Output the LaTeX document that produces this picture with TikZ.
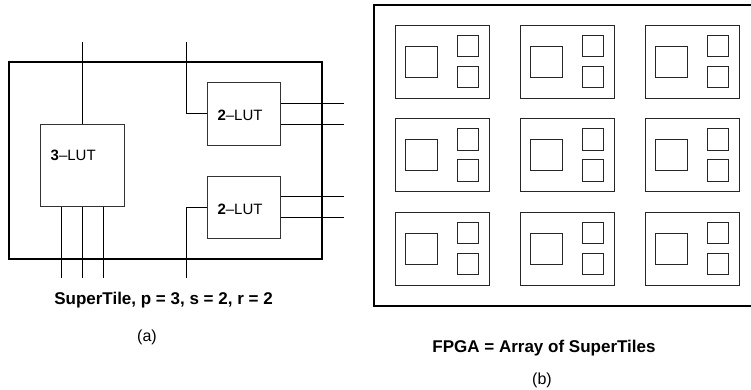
\documentclass[tikz,border=0pt]{standalone}
\usepackage{fontspec}
\setmainfont{Liberation Sans}
\usetikzlibrary{calc}

\tikzset{
  frame/.style={line width=2pt},
  lut/.style={draw=black!80, line width=0.9pt, inner sep=0pt},
  wire/.style={line width=0.9pt},
  tile/.style={draw=black!85, line width=1pt},
  lbl/.style={font=\fontsize{15}{18}\selectfont, inner sep=0pt},
  captxt/.style={font=\bfseries\fontsize{17}{20}\selectfont, inner sep=0pt},
  subtxt/.style={font=\fontsize{16}{19}\selectfont, inner sep=0pt}
}

\begin{document}
\begin{tikzpicture}[x=1pt, y=-1pt]
  \useasboundingbox (0,0) rectangle (751,389);
  % SuperTile
  \draw[frame] (9,62) rectangle (322,259);
  \node[lut, minimum width=83.6pt, minimum height=82.7pt] (lut3) at (82.5,165.3) {};
  \node[lut, minimum width=72.6pt, minimum height=62.7pt] (luta) at (244,113.7) {};
  \node[lut, minimum width=72.6pt, minimum height=62.3pt] (lutb) at (244,207.2) {};
  \node[lbl, anchor=west] (lut3txt) at (50.5,155) {\textbf{3}--LUT};
  \node[lbl, anchor=west] (lutatxt) at (217.3,115) {\textbf{2}--LUT};
  \node[lbl, anchor=west] (lutbtxt) at (217.3,209) {\textbf{2}--LUT};
  % Wires
  \coordinate (in3) at (82.5,41.7);
  \coordinate (ina) at (186,41.7);
  \coordinate (inb) at (186,278);
  \draw[wire] (in3) -- (lut3.north);
  \foreach \dx in {-21,0,21}
    \draw[wire] ($(lut3.south)+(\dx,0)$) -- ($(lut3.south)+(\dx,71.3)$);
  \draw[wire] (ina) |- (luta.west);
  \draw[wire] (inb) |- (lutb.west);
  \foreach \n in {luta,lutb}
    \foreach \dy in {-10.7,10.7}
      \draw[wire] ($(\n.east)+(0,\dy)$) -- ++(63,0);
  % FPGA
  \draw[frame] (374,4.7) rectangle (753,306);
  \foreach \i in {0,1,2}
    \foreach \j in {0,1,2} {
      \begin{scope}[shift={(395+125*\i,25+93.5*\j)}]
        \draw[tile] (0,0) rectangle (94,73.3);
        \draw[tile] (10.3,21) rectangle (42,52.3);
        \draw[tile] (62.7,10.3) rectangle (83.7,31.6);
        \draw[tile] (62.7,41.3) rectangle (83.7,62.6);
      \end{scope}
    }
  % Captions
  \node[captxt] (capa) at (163.5,300) {SuperTile, p = 3, s = 2, r = 2};
  \node[subtxt] (suba) at (147,337) {(a)};
  \node[captxt] (capb) at (544,348) {FPGA = Array of SuperTiles};
  \node[subtxt] (subb) at (542,380) {(b)};
\end{tikzpicture}
\end{document}
